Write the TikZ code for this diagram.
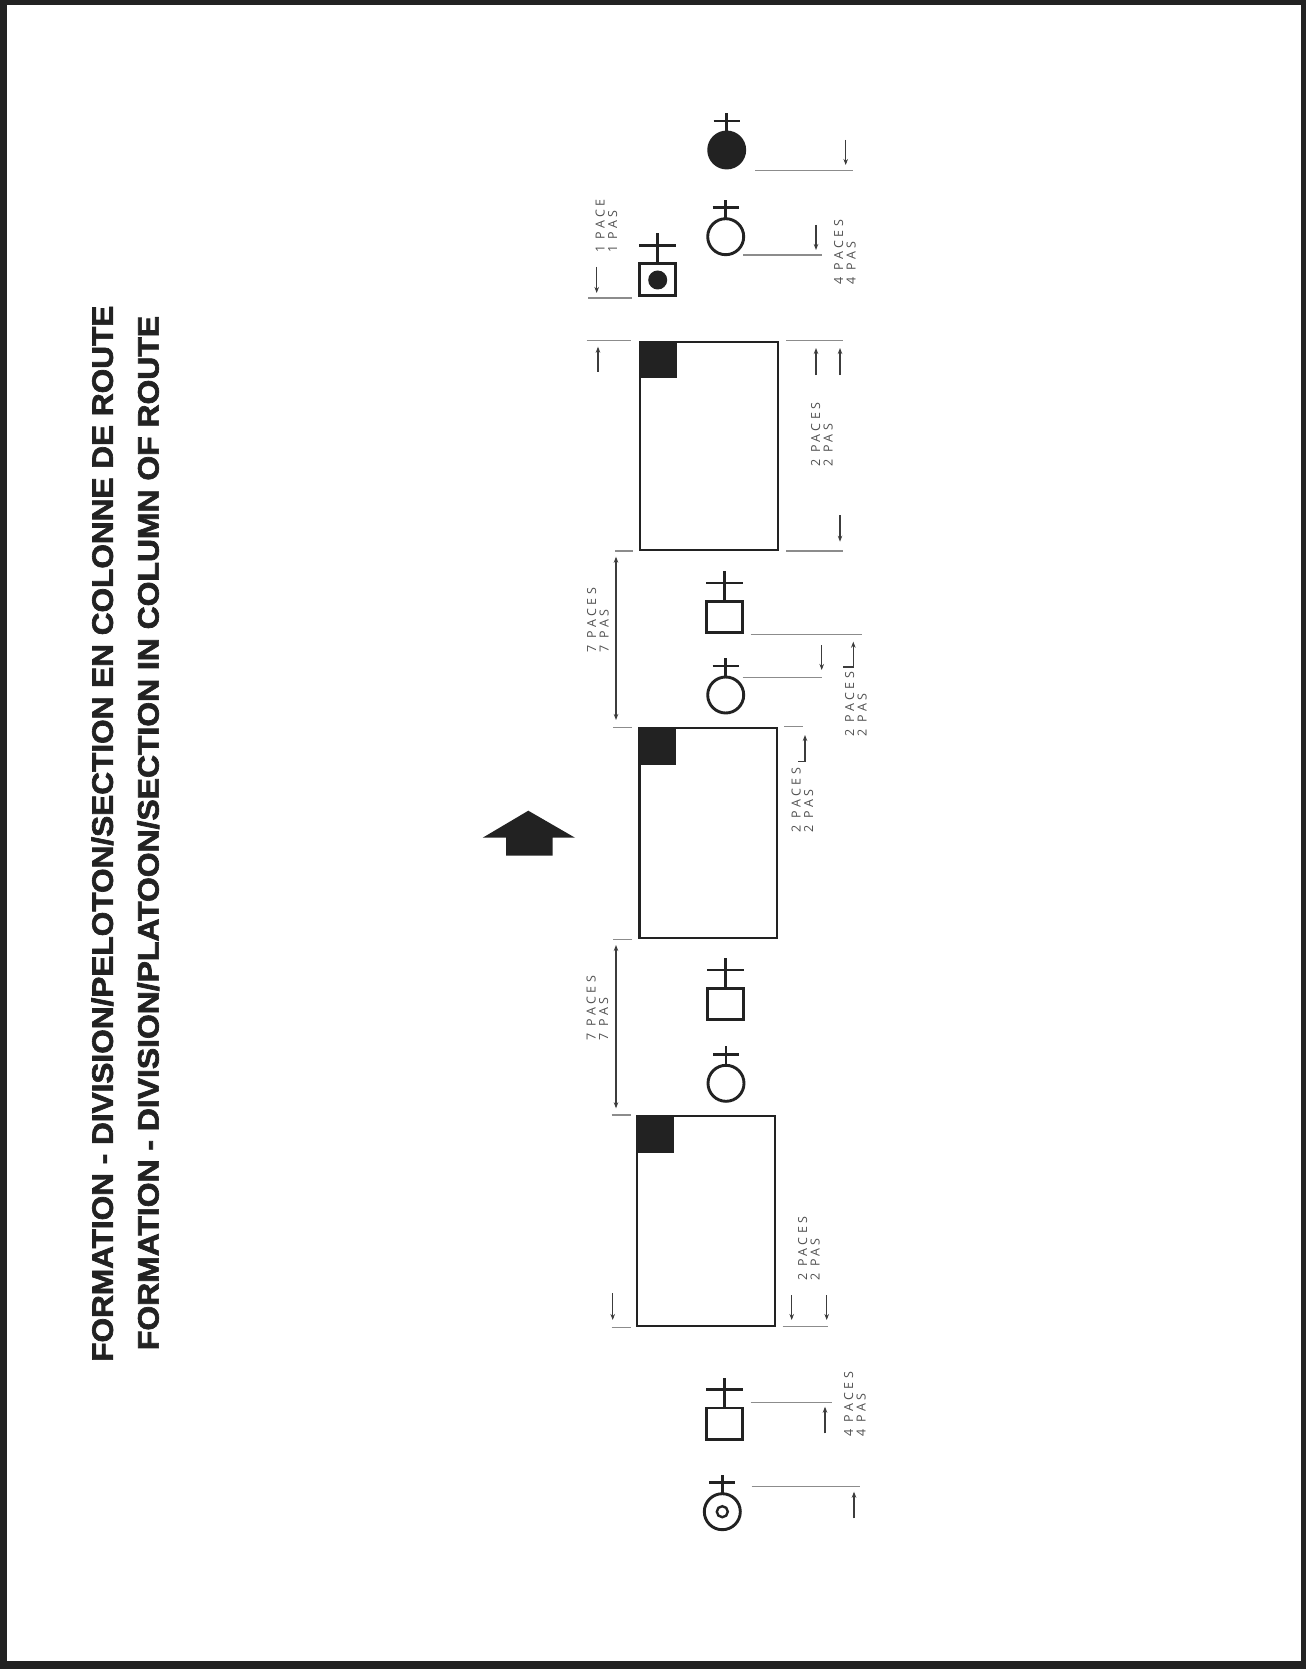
\documentclass[tikz,border=0pt]{standalone}
\usepackage{fontspec}
\usepackage{graphicx}
\usetikzlibrary{arrows.meta}
\definecolor{inkBlack}{RGB}{34,34,34}
\definecolor{dimGray}{RGB}{140,140,140}
\definecolor{arrowGray}{RGB}{60,60,60}
\definecolor{labelGray}{RGB}{80,80,80}
\newfontfamily\titlefont{Liberation Sans Bold}[FakeBold=2.2]
\newfontfamily\pacefont{Open Sans}[LetterSpace=28]

\begin{document}
\begin{tikzpicture}[x=1pt, y=-1pt, >={Stealth[length=6pt, width=4.5pt]},
    troop/.style={draw=inkBlack, line width=2.9pt},
    dimline/.style={dimGray, line width=1.1pt},
    dimarrow/.style={->, arrowGray, line width=1.1pt},
    pacelabel/.style={rotate=90, align=left, inner sep=0pt, text=labelGray,
      font=\pacefont\fontsize{12.5}{12.5}\selectfont},
    titleline/.style={rotate=90, anchor=base, inner sep=0pt, text=inkBlack,
      font=\titlefont\fontsize{29.5}{30}\selectfont},
    pics/circsym/.style={code={
      \draw[troop,#1] (0,0) circle (18pt);
      \draw[troop] (0,-18) -- (0,-37) (-13,-29) -- (13,-29);
    }},
    pics/boxsym/.style={code={
      \draw[troop] (-18,-15.75) rectangle (18,15.75);
      \draw[troop] (0,-15.75) -- (0,-46) (-18.5,-34) -- (18.5,-34);
    }}]
    \useasboundingbox (0,0) rectangle (1306,1669);
    % --- frame ---
    \fill[inkBlack] (0,0) rectangle (1306,1669);
    \fill[white] (6.5,5) rectangle (1300.5,1661);
    % --- title ---
    \node[titleline] (titleFr) at (112.8,833.7)
      {\resizebox{1056pt}{\height}{FORMATION - DIVISION/PELOTON/SECTION EN COLONNE DE ROUTE}};
    \node[titleline] (titleEn) at (158.6,833)
      {\resizebox{1034pt}{\height}{FORMATION - DIVISION/PLATOON/SECTION IN COLUMN OF ROUTE}};
    % --- direction of march ---
    \fill[inkBlack] (528.3,810.7) -- (575,837.7) -- (552.7,837.7) -- (552.7,855.7)
      -- (506,855.7) -- (506,837.7) -- (482.7,837.7) -- cycle;
    % --- head of the column ---
    \pic at (726.7,150) {circsym={fill=inkBlack}};
    \pic at (725.7,236.7) {circsym};
    \pic at (657.5,279.5) {boxsym};
    \fill[inkBlack] (657.7,280) circle (9.5pt);
    \draw[dimline] (755,170.7) -- (852.7,170.7);
    \draw[dimarrow] (845.7,140) -- (845.7,165);
    \draw[dimline] (743,255) -- (821.7,255);
    \draw[dimarrow] (816,225) -- (816,250);
    \node[pacelabel] (lblFourTop) at (845,252) {4 PACES\\4 PAS};
    \draw[dimline] (588,298) -- (632,298);
    \draw[dimarrow] (596.7,267) -- (596.7,293);
    \draw[dimline] (586.7,340.7) -- (630.7,340.7);
    \draw[dimarrow] (598,371.7) -- (598,346.7);
    \node[pacelabel] (lblOnePace) at (606.5,226) {1 PACE\\1 PAS};
    % --- first section ---
    \draw[troop, line width=2.5pt] (640.2,341.9) rectangle (777.8,549.8);
    \fill[inkBlack] (639,340.7) rectangle (676.7,378.3);
    \draw[dimline] (786,340.7) -- (842.7,340.7);
    \draw[dimarrow] (816,375) -- (816,348);
    \draw[dimarrow] (840,375) -- (840,348);
    \draw[dimline] (786,551) -- (842.7,551);
    \draw[dimarrow] (840,515) -- (840,541.7);
    \node[pacelabel] (lblTwoA) at (822,434.5) {2 PACES\\2 PAS};
    % --- gap 1 ---
    \draw[dimline] (615,551) -- (633,551);
    \draw[dimline] (613,727.3) -- (631.7,727.3);
    \draw[dimarrow, <->] (616,556.7) -- (616,720);
    \node[pacelabel] (lblSevenA) at (598,620) {7 PACES\\7 PAS};
    \pic at (724.5,617) {boxsym};
    \pic at (725.7,695) {circsym};
    \draw[dimline] (750.7,634.3) -- (861.7,634.3);
    \draw[dimarrow] (843,667) -- (853.3,667) -- (853.3,641.7);
    \draw[dimline] (742.7,677.3) -- (821.7,677.3);
    \draw[dimarrow] (821.7,645) -- (821.7,670);
    \node[pacelabel] (lblTwoB) at (856,704) {2 PACES\\2 PAS};
    % --- second section ---
    \draw[troop, line width=2.5pt] (639.5,727.9) rectangle (777.1,938.1);
    \fill[inkBlack] (638.3,726.7) rectangle (675.7,765);
    \draw[dimline] (784,726.7) -- (803.3,726.7);
    \draw[dimarrow] (798.3,761.7) -- (805,761.7) -- (805,735);
    \node[pacelabel] (lblTwoC) at (802.5,800) {2 PACES\\2 PAS};
    % --- gap 2 ---
    \draw[dimline] (613,939.3) -- (631.7,939.3);
    \draw[dimline] (611.7,1115) -- (630.7,1115);
    \draw[dimarrow, <->] (616,945) -- (616,1108.3);
    \node[pacelabel] (lblSevenB) at (597.5,1008) {7 PACES\\7 PAS};
    \pic at (725.5,1004) {boxsym};
    \pic at (726,1083.3) {circsym};
    % --- third section ---
    \draw[troop, line width=2.5pt] (637.2,1116.2) rectangle (774.8,1326.1);
    \fill[inkBlack] (636,1115) rectangle (674.3,1152.7);
    \draw[dimline] (611.7,1327.3) -- (630.7,1327.3);
    \draw[dimarrow] (612.7,1293.3) -- (612.7,1320);
    \draw[dimline] (782.7,1326.7) -- (828.3,1326.7);
    \draw[dimarrow] (791.7,1295) -- (791.7,1320);
    \draw[dimarrow] (826.7,1295) -- (826.7,1320);
    \node[pacelabel] (lblTwoD) at (809,1248.7) {2 PACES\\2 PAS};
    % --- rear of the column ---
    \pic at (724.5,1423.7) {boxsym};
    \pic at (722.3,1511.7) {circsym};
    \draw[troop, line width=2.4pt] (722.3,1511.7) circle (5.5pt);
    \draw[dimline] (750.7,1402.3) -- (831.7,1402.3);
    \draw[dimarrow] (825,1433.3) -- (825,1406.7);
    \draw[dimline] (751.7,1486.7) -- (860,1486.7);
    \draw[dimarrow] (854,1518.3) -- (854,1491.7);
    \node[pacelabel] (lblFourBottom) at (855,1404) {4 PACES\\4 PAS};
\end{tikzpicture}
\end{document}
